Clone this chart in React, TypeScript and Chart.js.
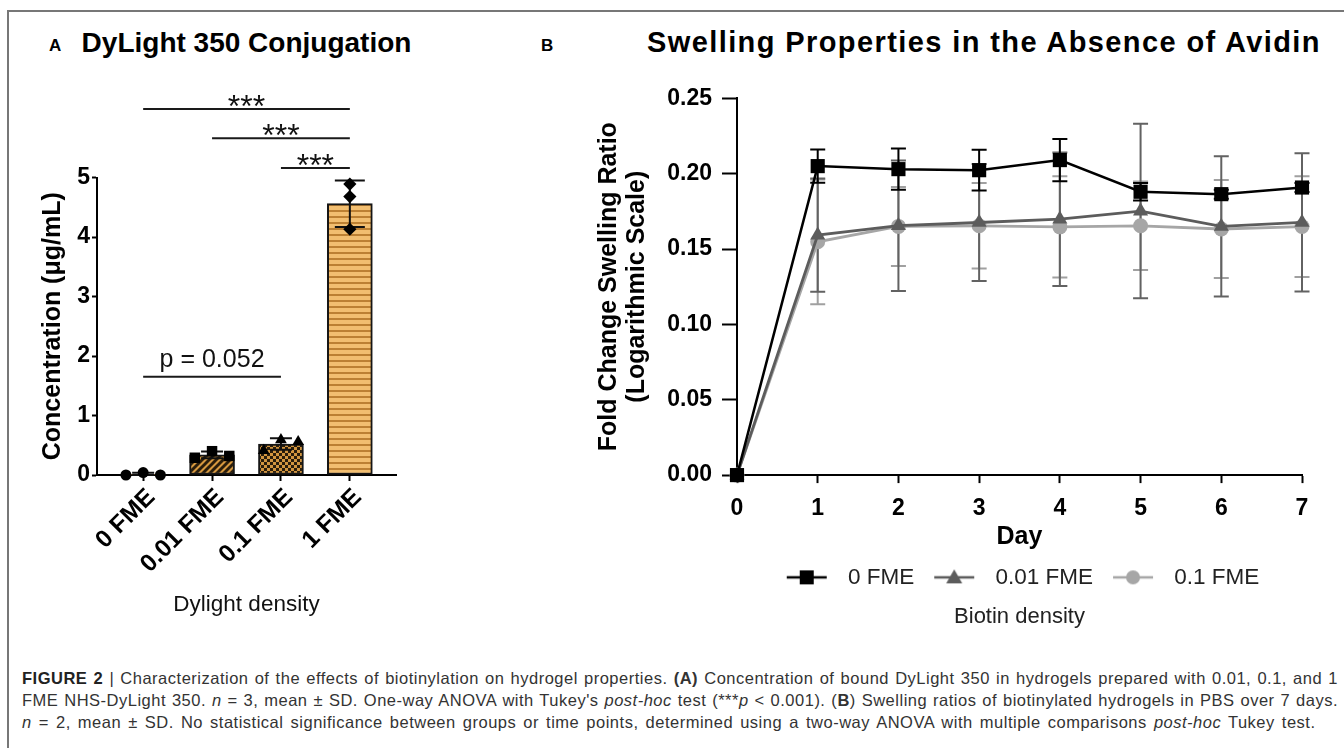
import React, { useEffect, useRef } from 'react';
import { Chart, registerables } from 'chart.js';

Chart.register(...registerables);

const FONT = "'Liberation Sans', Arial, Helvetica, sans-serif";

// ---------- Panel A data ----------
const A_CATEGORIES = ['0 FME', '0.01 FME', '0.1 FME', '1 FME'];
const A_MEANS = [0.013, 0.34, 0.52, 4.56];
const A_SDS = [0.023, 0.057, 0.096, 0.39];
const A_REP_0 = [0.0, 0.04, 0.0];
const A_REP_001 = [0.29, 0.4, 0.32];
const A_REP_01 = [0.41, 0.59, 0.56];
const A_REP_1 = [4.89, 4.68, 4.13];
const SIG_FROM = [0, 1, 2, 0];
const SIG_TO = [3, 3, 3, 2];
const SIG_Y = [6.15, 5.66, 5.16, 1.65];
const SIG_LABELS = ['***', '***', '***', 'p = 0.052'];

// ---------- Panel B data ----------
const B_DAYS = [0, 1, 2, 3, 4, 5, 6, 7];
const B_SERIES = ['0 FME', '0.01 FME', '0.1 FME'];
const B_MEAN_0 = [0, 0.205, 0.203, 0.2023, 0.209, 0.188, 0.1864, 0.1908];
const B_SD_0 = [0, 0.011, 0.0137, 0.0135, 0.014, 0.0058, 0.003, 0.003];
const B_MEAN_001 = [0, 0.1592, 0.1655, 0.1676, 0.1698, 0.1752, 0.165, 0.1677];
const B_SD_001 = [0, 0.0376, 0.0433, 0.0388, 0.0443, 0.0579, 0.0465, 0.0459];
const B_MEAN_01 = [0, 0.1548, 0.165, 0.1654, 0.1647, 0.1654, 0.1633, 0.1649];
const B_SD_01 = [0, 0.0414, 0.0262, 0.0284, 0.0336, 0.0294, 0.0325, 0.0334];

// style constants
const A_JITTER = [0.25, 0.25, 0.25, 0];
const B_COLORS = ['#000000', '#5c5c5c', '#a6a6a6'];
const B_ERR_COLORS = ['#000000', '#626262', '#a0a0a0'];
const B_STYLES = ['rect', 'triangle', 'circle'];

function makeTile(w: number, h: number, draw: (g: CanvasRenderingContext2D) => void) {
  const c = document.createElement('canvas');
  c.width = w;
  c.height = h;
  const g = c.getContext('2d')!;
  draw(g);
  return c;
}

function buildA(canvas: HTMLCanvasElement) {
  const ctx = canvas.getContext('2d')!;
  const stripesTile = makeTile(6, 6, (g) => {
    g.fillStyle = '#F2BE70';
    g.fillRect(0, 0, 6, 6);
    g.fillStyle = '#BC8033';
    g.fillRect(0, 0, 6, 2);
  });
  const hatchTile = makeTile(7, 7, (g) => {
    g.fillStyle = '#D6983F';
    g.fillRect(0, 0, 7, 7);
    g.strokeStyle = '#2a1d0b';
    g.lineWidth = 2.9;
    g.beginPath();
    g.moveTo(0, 7); g.lineTo(7, 0);
    g.moveTo(-1, 1); g.lineTo(1, -1);
    g.moveTo(6, 8); g.lineTo(8, 6);
    g.stroke();
  });
  const checkerTile = makeTile(6, 6, (g) => {
    g.fillStyle = '#D2953F';
    g.fillRect(0, 0, 6, 6);
    g.fillStyle = '#2a1d0b';
    g.fillRect(0, 0, 3, 3);
    g.fillRect(3, 3, 3, 3);
  });
  const stripes = ctx.createPattern(stripesTile, 'repeat');
  const hatch = ctx.createPattern(hatchTile, 'repeat');
  const checker = ctx.createPattern(checkerTile, 'repeat');
  const fills = [stripes, hatch, checker, stripes];
  const reps = [A_REP_0, A_REP_001, A_REP_01, A_REP_1];
  const styles = ['circle', 'rect', 'triangle', 'rectRot'];
  const radii = [5.5, 7.4, 6.8, 6.6];

  const extras = {
    id: 'aExtras',
    afterDatasetDraw(chart: any, args: any) {
      if (args.index !== 0) return;
      const { ctx: c, scales } = chart;
      const x = scales.x, y = scales.y;
      c.save();
      c.strokeStyle = '#111';
      c.lineWidth = 2;
      A_MEANS.forEach((m, i) => {
        const sd = A_SDS[i];
        const px = x.getPixelForValue(i);
        const top = y.getPixelForValue(m + sd);
        const bot = y.getPixelForValue(Math.max(0, m - sd));
        const cap = i === 3 ? 15 : 11;
        c.beginPath();
        c.moveTo(px, top); c.lineTo(px, bot);
        c.moveTo(px - cap, top); c.lineTo(px + cap, top);
        c.moveTo(px - cap, bot); c.lineTo(px + cap, bot);
        c.stroke();
      });
      c.restore();
    },
    afterDraw(chart: any) {
      const { ctx: c, scales } = chart;
      const x = scales.x, y = scales.y;
      c.save();
      c.strokeStyle = '#1a1a1a';
      c.fillStyle = '#111';
      c.lineWidth = 2;
      c.textAlign = 'center';
      c.textBaseline = 'alphabetic';
      SIG_FROM.forEach((f, k) => {
        const x1 = x.getPixelForValue(f);
        const x2 = x.getPixelForValue(SIG_TO[k]);
        const py = y.getPixelForValue(SIG_Y[k]);
        c.beginPath();
        c.moveTo(x1, py); c.lineTo(x2, py);
        c.stroke();
        const star = SIG_LABELS[k].startsWith('*');
        c.font = star ? `32px ${FONT}` : `25px ${FONT}`;
        c.fillText(SIG_LABELS[k], (x1 + x2) / 2, star ? py + 8 : py - 10);
      });
      c.restore();
    },
  };

  return new Chart(canvas, {
    type: 'bar',
    data: {
      datasets: [
        {
          type: 'bar',
          data: A_MEANS.map((m, i) => ({ x: i, y: m })),
          backgroundColor: fills as any,
          borderColor: '#161616',
          borderWidth: 2,
          borderSkipped: false,
          barThickness: 45,
          order: 2,
        } as any,
        ...reps.map((r, i) => ({
          type: 'scatter',
          data: r.map((v, j) => ({ x: i + (j - 1) * A_JITTER[i], y: v })),
          pointStyle: styles[i],
          pointRadius: radii[i],
          pointBackgroundColor: '#000',
          pointBorderColor: '#000',
          pointBorderWidth: 0,
          order: 1,
          clip: false,
        })) as any,
      ],
    },
    options: {
      responsive: false,
      animation: false,
      devicePixelRatio: 1,
      layout: { padding: { left: 0, right: 44, top: 117.5, bottom: 0 } },
      plugins: { legend: { display: false }, tooltip: { enabled: false } },
      scales: {
        x: {
          type: 'linear',
          min: -0.67,
          max: 3.67,
          offset: false,
          afterBuildTicks: (s: any) => {
            s.ticks = A_CATEGORIES.map((_, i) => ({ value: i }));
          },
          ticks: {
            autoSkip: false,
            minRotation: 45,
            maxRotation: 45,
            font: { size: 24.5, weight: 'bold' },
            color: '#000',
            padding: 2,
            labelOffset: 8,
            callback: (v: any) => A_CATEGORIES[Math.round(Number(v))] ?? '',
          },
          grid: {
            display: true,
            offset: false,
            drawOnChartArea: false,
            drawTicks: true,
            tickLength: 6,
            tickWidth: 2,
            tickColor: '#000',
          },
          border: { display: true, color: '#000', width: 2 },
          title: {
            display: true,
            text: 'Dylight density',
            font: { size: 22.5, weight: 'normal' },
            color: '#111',
            padding: { top: 0, bottom: 21.5 },
          },
          afterFit: (s: any) => { s.height = 165; },
        } as any,
        y: {
          min: 0,
          max: 5,
          ticks: { stepSize: 1, font: { size: 23, weight: 'bold' }, color: '#000', padding: 2 },
          grid: { drawOnChartArea: false, tickLength: 5, tickWidth: 2, tickColor: '#000' },
          border: { color: '#000', width: 2 },
          title: {
            display: true,
            text: 'Concentration (μg/mL)',
            font: { size: 25, weight: 'bold' },
            color: '#000',
            padding: { top: 38, bottom: 0 },
          },
          afterFit: (s: any) => { s.width = 97; },
        } as any,
      },
    },
    plugins: [extras],
  } as any);
}

function legendImage(color: string, style: string) {
  return makeTile(57, 22, (g) => {
    g.strokeStyle = color;
    g.lineWidth = 2.5;
    g.beginPath();
    g.moveTo(7, 11);
    g.lineTo(47, 11);
    g.stroke();
    g.fillStyle = color;
    if (style === 'rect') {
      g.fillRect(20, 4, 14, 14);
    } else if (style === 'triangle') {
      g.beginPath();
      g.moveTo(27, 3);
      g.lineTo(35, 17);
      g.lineTo(19, 17);
      g.closePath();
      g.fill();
    } else {
      g.beginPath();
      g.arc(27, 11, 7, 0, Math.PI * 2);
      g.fill();
    }
  });
}

function buildB(canvas: HTMLCanvasElement) {
  const means = [B_MEAN_0, B_MEAN_001, B_MEAN_01];
  const sds = [B_SD_0, B_SD_001, B_SD_01];
  const radii = [10, 8.7, 7.5];
  const legendImgs = B_SERIES.map((_, i) => legendImage(B_COLORS[i], B_STYLES[i]));

  const errBars = {
    id: 'bErr',
    beforeDatasetsDraw(chart: any) {
      const { ctx: c, scales } = chart;
      const x = scales.x, y = scales.y;
      c.save();
      c.lineWidth = 2;
      [2, 1, 0].forEach((s) => {
        c.strokeStyle = B_ERR_COLORS[s];
        B_DAYS.forEach((d, i) => {
          const sd = sds[s][i];
          if (!sd) return;
          const m = means[s][i];
          const px = x.getPixelForValue(d);
          const t = y.getPixelForValue(m + sd);
          const b = y.getPixelForValue(m - sd);
          const cap = 7.5;
          c.beginPath();
          c.moveTo(px, t); c.lineTo(px, b);
          c.moveTo(px - cap, t); c.lineTo(px + cap, t);
          c.moveTo(px - cap, b); c.lineTo(px + cap, b);
          c.stroke();
        });
      });
      c.restore();
    },
  };

  return new Chart(canvas, {
    type: 'line',
    data: {
      datasets: B_SERIES.map((label, s) => ({
        label,
        data: B_DAYS.map((d, i) => ({ x: d, y: means[s][i] })),
        borderColor: B_COLORS[s],
        backgroundColor: B_COLORS[s],
        borderWidth: s === 0 ? 2.5 : 2.8,
        pointStyle: B_STYLES[s],
        pointRadius: radii[s],
        pointBorderWidth: 0,
        pointBackgroundColor: B_COLORS[s],
        pointBorderColor: B_COLORS[s],
        tension: 0,
        clip: false,
      })) as any,
    },
    options: {
      responsive: false,
      animation: false,
      devicePixelRatio: 1,
      layout: { padding: { left: 0, right: 42, top: 38.3, bottom: 0 } },
      plugins: {
        legend: {
          display: true,
          position: 'bottom',
          fullSize: false,
          labels: {
            usePointStyle: true,
            pointStyleWidth: 57,
            padding: 13,
            font: { size: 22.5, weight: 'normal' },
            color: '#222',
            generateLabels: (chart: any) =>
              (Chart.defaults.plugins.legend.labels.generateLabels as any)(chart).map((l: any, i: number) => ({
                ...l,
                pointStyle: legendImgs[i],
              })),
          },
        },
        subtitle: {
          display: true,
          text: 'Biotin density',
          position: 'bottom',
          fullSize: false,
          font: { size: 22, weight: 'normal' },
          color: '#222',
          padding: { top: 5, bottom: 0 },
        },
        tooltip: { enabled: false },
      },
      scales: {
        x: {
          type: 'linear',
          min: 0,
          max: 7,
          ticks: { stepSize: 1, font: { size: 23, weight: 'bold' }, color: '#000', padding: 11.5 },
          grid: { drawOnChartArea: false, tickLength: 8, tickWidth: 2, tickColor: '#000' },
          border: { color: '#000', width: 2 },
          title: {
            display: true,
            text: 'Day',
            font: { size: 25, weight: 'bold' },
            color: '#000',
            padding: { top: 0, bottom: 1 },
          },
          afterFit: (s: any) => { s.height = 78; },
        } as any,
        y: {
          min: 0,
          max: 0.25,
          ticks: {
            stepSize: 0.05,
            callback: (v: any) => Number(v).toFixed(2),
            font: { size: 23, weight: 'bold' },
            color: '#000',
            padding: 10,
          },
          grid: { drawOnChartArea: false, tickLength: 15, tickWidth: 2, tickColor: '#000' },
          border: { color: '#000', width: 2 },
          title: {
            display: true,
            text: ['Fold Change Swelling Ratio', '(Logarithmic Scale)'],
            font: { size: 25, weight: 'bold', lineHeight: 1.12 },
            color: '#000',
            padding: { top: 15, bottom: 0 },
          },
          afterFit: (s: any) => { s.width = 157; },
        } as any,
      },
    },
    plugins: [errBars],
  } as any);
}

export default function App() {
  const refA = useRef<HTMLCanvasElement>(null);
  const refB = useRef<HTMLCanvasElement>(null);

  useEffect(() => {
    Chart.defaults.font.family = FONT;
    Chart.defaults.color = '#000';
    const a = buildA(refA.current!);
    const b = buildB(refB.current!);
    return () => {
      a.destroy();
      b.destroy();
    };
  }, []);

  const capLine: React.CSSProperties = {
    whiteSpace: 'nowrap',
    height: 22,
    lineHeight: '22px',
  };

  return (
    <div
      style={{
        position: 'fixed',
        left: 0,
        top: 0,
        width: 1344,
        height: 748,
        background: '#fff',
        fontFamily: FONT,
        overflow: 'hidden',
      }}
    >
      <div
        style={{
          position: 'absolute',
          left: 7,
          top: 10,
          width: 1337,
          height: 738,
          borderLeft: '2px solid #777',
          borderTop: '2px solid #777',
          boxSizing: 'border-box',
        }}
      />
      <div style={{ position: 'absolute', left: 49, top: 37, font: `bold 17px ${FONT}`, lineHeight: '17px' }}>A</div>
      <div
        style={{
          position: 'absolute',
          left: 46.5,
          width: 400,
          top: 29,
          textAlign: 'center',
          font: `bold 28px ${FONT}`,
          lineHeight: '28px',
        }}
      >
        DyLight 350 Conjugation
      </div>
      <div style={{ position: 'absolute', left: 541, top: 37, font: `bold 17px ${FONT}`, lineHeight: '17px' }}>B</div>
      <div
        style={{
          position: 'absolute',
          left: 647,
          top: 28,
          whiteSpace: 'nowrap',
          font: `bold 29px ${FONT}`,
          letterSpacing: '1.4px',
          lineHeight: '29px',
        }}
      >
        Swelling Properties in the Absence of Avidin
      </div>

      <canvas
        ref={refA}
        width={440}
        height={580}
        style={{ position: 'absolute', left: 0, top: 60, width: 440, height: 580 }}
      />
      <canvas
        ref={refB}
        width={764}
        height={570}
        style={{ position: 'absolute', left: 580, top: 60, width: 764, height: 570 }}
      />

      <div
        style={{
          position: 'absolute',
          left: 22,
          top: 667,
          width: 1316,
          font: `16.5px ${FONT}`,
          letterSpacing: '0.5px',
          color: '#333',
        }}
      >
        <div style={{ ...capLine, textAlign: 'justify', textAlignLast: 'justify' }}>
          <b style={{ color: '#222' }}>FIGURE 2</b> | Characterization of the effects of biotinylation on hydrogel
          properties. <b>(A)</b> Concentration of bound DyLight 350 in hydrogels prepared with 0.01, 0.1, and 1
        </div>
        <div style={{ ...capLine, textAlign: 'justify', textAlignLast: 'justify' }}>
          FME NHS-DyLight 350. <i>n</i> = 3, mean ± SD. One-way ANOVA with Tukey's <i>post-hoc</i> test (***<i>p</i>{' '}
          &lt; 0.001). (<b>B</b>) Swelling ratios of biotinylated hydrogels in PBS over 7 days.
        </div>
        <div style={{ ...capLine, wordSpacing: '2px' }}>
          <i>n</i> = 2, mean ± SD. No statistical significance between groups or time points, determined using a
          two-way ANOVA with multiple comparisons <i>post-hoc</i> Tukey test.
        </div>
      </div>
    </div>
  );
}
